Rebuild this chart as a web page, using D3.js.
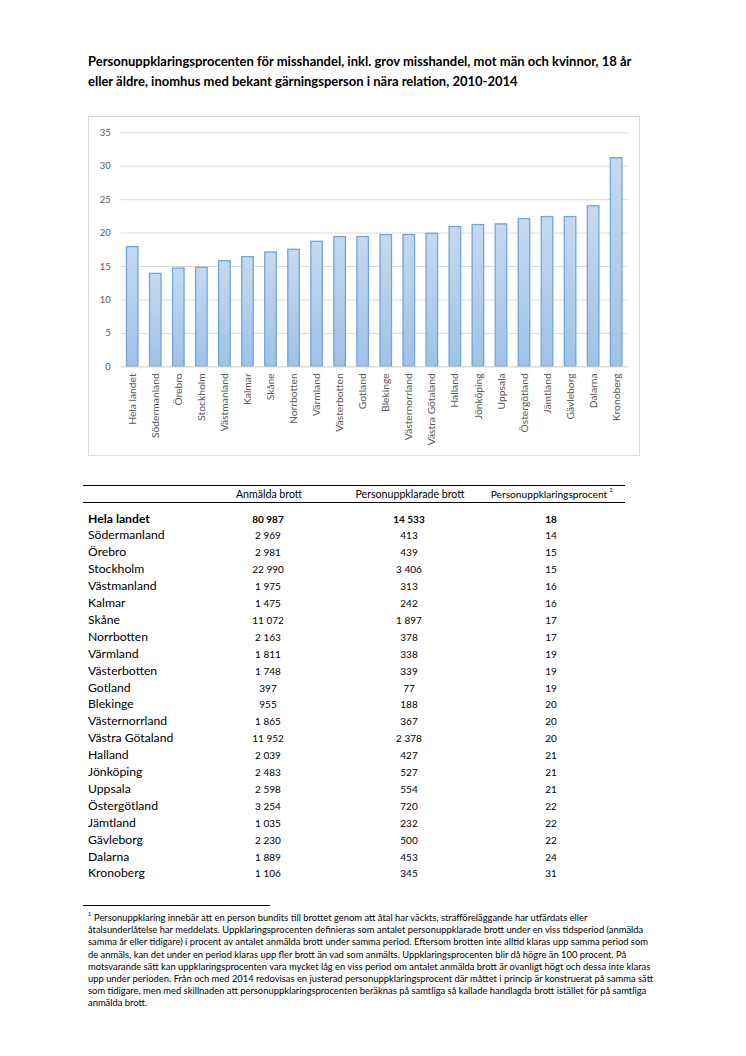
<!DOCTYPE html>
<html><head><meta charset="utf-8">
<script src="https://cdn.jsdelivr.net/npm/d3@7"></script>
<style>body{margin:0;background:#fff}svg{display:block}text{font-family:Lato,"Open Sans",sans-serif}</style>
</head><body>
<script>
const regions = ["Hela landet","Södermanland","Örebro","Stockholm","Västmanland","Kalmar","Skåne","Norrbotten","Värmland","Västerbotten","Gotland","Blekinge","Västernorrland","Västra Götaland","Halland","Jönköping","Uppsala","Östergötland","Jämtland","Gävleborg","Dalarna","Kronoberg"];
const chartValues = [17.9,13.9,14.7,14.8,15.8,16.4,17.1,17.5,18.7,19.4,19.4,19.7,19.7,19.9,20.9,21.2,21.3,22.1,22.4,22.4,24.0,31.2];
const anmalda = [80987,2969,2981,22990,1975,1475,11072,2163,1811,1748,397,955,1865,11952,2039,2483,2598,3254,1035,2230,1889,1106];
const klarade = [14533,413,439,3406,313,242,1897,378,338,339,77,188,367,2378,427,527,554,720,232,500,453,345];
const procent = [18,14,15,15,16,16,17,17,19,19,19,20,20,20,21,21,21,22,22,22,24,31];
const yTicks = [0,5,10,15,20,25,30,35];
const titleLines = ["Personuppklaringsprocenten för misshandel, inkl. grov misshandel, mot män och kvinnor, 18 år","eller äldre, inomhus med bekant gärningsperson i nära relation, 2010-2014"];
const headers = ["Anmälda brott","Personuppklarade brott","Personuppklaringsprocent"];
const footLines = [
"Personuppklaring innebär att en person bundits till brottet genom att åtal har väckts, strafföreläggande har utfärdats eller",
"åtalsunderlåtelse har meddelats. Uppklaringsprocenten definieras som antalet personuppklarade brott under en viss tidsperiod (anmälda",
"samma år eller tidigare) i procent av antalet anmälda brott under samma period. Eftersom brotten inte alltid klaras upp samma period som",
"de anmäls, kan det under en period klaras upp fler brott än vad som anmälts. Uppklaringsprocenten blir då högre än 100 procent. På",
"motsvarande sätt kan uppklaringsprocenten vara mycket låg en viss period om antalet anmälda brott är ovanligt högt och dessa inte klaras",
"upp under perioden. Från och med 2014 redovisas en justerad personuppklaringsprocent där måttet i princip är konstruerat på samma sätt",
"som tidigare, men med skillnaden att personuppklaringsprocenten beräknas på samtliga så kallade handlagda brott istället för på samtliga",
"anmälda brott."];

const W = 746, H = 1056;
const svg = d3.select("body").append("svg").attr("width", W).attr("height", H);
svg.append("rect").attr("width", W).attr("height", H).attr("fill", "#fff");

// Title
svg.append("g").selectAll("text").data(titleLines).join("text")
  .attr("x", 88).attr("y", (d,i) => 66 + i*20)
  .attr("font-size", 13).attr("font-weight", "bold").attr("fill", "#000").text(d => d);

// Chart frame
svg.append("rect").attr("x", 88.5).attr("y", 116.5).attr("width", 551).attr("height", 339)
  .attr("fill", "#fff").attr("stroke", "#d9d9d9").attr("stroke-width", 1);

const x = d3.scaleBand().domain(regions).range([120.7, 627.7]).paddingInner(0.5).paddingOuter(0.25);
const y = d3.scaleLinear().domain([0, 35]).range([366.3, 132.3]);

const defs = svg.append("defs");
const grad = defs.append("linearGradient").attr("id", "barGrad").attr("x1", 0).attr("y1", 0).attr("x2", 0).attr("y2", 1);
grad.append("stop").attr("offset", "0%").attr("stop-color", "#c6d9f0");
grad.append("stop").attr("offset", "100%").attr("stop-color", "#9fc2e7");

// Gridlines + y axis
const yAxis = d3.axisLeft(y).tickValues(yTicks).tickSize(-(627.7 - 120.7)).tickPadding(10);
const gy = svg.append("g").attr("transform", "translate(120.7,0)").call(yAxis);
gy.select(".domain").remove();
gy.selectAll(".tick line").attr("stroke", "#d9d9d9").attr("stroke-width", 1);
gy.selectAll(".tick text").attr("font-size", 9.5).attr("fill", "#595959").attr("font-family", "Lato");

// Bars
svg.append("g").selectAll("rect").data(regions).join("rect")
  .attr("x", d => x(d)).attr("width", x.bandwidth())
  .attr("y", (d,i) => y(chartValues[i])).attr("height", (d,i) => y(0) - y(chartValues[i]))
  .attr("fill", "url(#barGrad)").attr("stroke", "#6fa6dc").attr("stroke-width", 1.3);

// X axis labels
const xAxis = d3.axisBottom(x).tickSize(0).tickPadding(0);
const gx = svg.append("g").attr("transform", "translate(0,366.3)").call(xAxis);
gx.select(".domain").attr("stroke", "#d9d9d9");
gx.selectAll(".tick text")
  .attr("font-size", 10.3).attr("fill", "#595959").attr("font-family", "Lato")
  .attr("text-anchor", "end").attr("transform", "rotate(-90)")
  .attr("x", -7).attr("y", 0).attr("dy", "0.35em");

// Table
const tbl = svg.append("g");
tbl.append("line").attr("x1", 83).attr("x2", 625).attr("y1", 485.5).attr("y2", 485.5).attr("stroke", "#000").attr("stroke-width", 1);
tbl.append("line").attr("x1", 83).attr("x2", 625).attr("y1", 502.5).attr("y2", 502.5).attr("stroke", "#000").attr("stroke-width", 1);
const colX = [269, 410, 549];
const numX = [268, 409, 551];
const hdr = tbl.selectAll("text.h").data(headers).join("text").attr("class", "h")
  .attr("x", (d,i) => colX[i]).attr("y", 498).attr("text-anchor", "middle")
  .attr("font-size", (d,i) => i === 2 ? 10.2 : 10.6).attr("fill", "#000").text(d => d);
const lastW = hdr.nodes()[2].getComputedTextLength();
tbl.append("text").attr("x", colX[2] + lastW / 2 + 2).attr("y", 492).attr("font-size", 6).attr("fill", "#000").text("1");

const fmt = d3.formatLocale({decimal: ",", thousands: "\u00a0", grouping: [3], currency: ["", ""]}).format(",d");
const rowY = i => 522.5 + i * 16.9;
const rows = tbl.selectAll("g.row").data(regions).join("g").attr("class", "row");
rows.append("text").attr("x", 88).attr("y", (d,i) => rowY(i)).attr("font-size", 12.2)
  .attr("font-weight", (d,i) => i === 0 ? "bold" : "normal").attr("fill", "#000").text(d => d);
rows.append("text").attr("x", numX[0]).attr("y", (d,i) => rowY(i)).attr("text-anchor", "middle").attr("font-size", 10)
  .attr("font-weight", (d,i) => i === 0 ? "bold" : "normal").text((d,i) => fmt(anmalda[i]));
rows.append("text").attr("x", numX[1]).attr("y", (d,i) => rowY(i)).attr("text-anchor", "middle").attr("font-size", 10)
  .attr("font-weight", (d,i) => i === 0 ? "bold" : "normal").text((d,i) => fmt(klarade[i]));
rows.append("text").attr("x", numX[2]).attr("y", (d,i) => rowY(i)).attr("text-anchor", "middle").attr("font-size", 10)
  .attr("font-weight", (d,i) => i === 0 ? "bold" : "normal").text((d,i) => procent[i]);

// Footnote
svg.append("line").attr("x1", 83).attr("x2", 270).attr("y1", 905.5).attr("y2", 905.5).attr("stroke", "#000").attr("stroke-width", 1);
const fn = svg.append("g");
fn.append("text").attr("x", 88).attr("y", 916).attr("font-size", 5.5).text("1");
fn.selectAll("text.f").data(footLines).join("text").attr("class", "f")
  .attr("x", (d,i) => i === 0 ? 94 : 88).attr("y", (d,i) => 921 + i * 12.2)
  .attr("font-size", 9.4).attr("fill", "#000").text(d => d);
</script>
</body></html>
